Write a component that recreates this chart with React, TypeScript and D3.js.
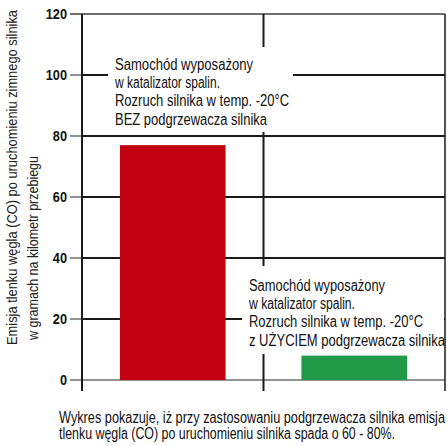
import { useMemo } from "react";
import * as d3 from "d3";

// Chart data
const categories = ["BEZ podgrzewacza", "z UŻYCIEM podgrzewacza"];
const values = [77, 8];
const barColors = ["#c3000f", "#239a48"];
const yTicks = [0, 20, 40, 60, 80, 100, 120];

const noteBez = [
  "Samochód wyposażony",
  "w katalizator spalin.",
  "Rozruch silnika w temp. -20°C",
  "BEZ podgrzewacza silnika",
];
const noteZ = [
  "Samochód wyposażony",
  "w katalizator spalin.",
  "Rozruch silnika w temp. -20°C",
  "z UŻYCIEM podgrzewacza silnika",
];
const yTitle = [
  "Emisja tlenku węgla (CO) po uruchomieniu zimnego silnika",
  "w gramach na kilometr przebiegu",
];
const footer = [
  "Wykres pokazuje, iż przy zastosowaniu podgrzewacza silnika emisja",
  "tlenku węgla (CO) po uruchomieniu silnika spada o 60 - 80%.",
];

// Rendered widths of the condensed lines (no narrow font installed)
const noteBezLen = [138, 105, 174, 152];
const noteZLen = [136, 106, 174, 196];
const yTitleLen = [335, 184];
const footerLen = [386, 336];

const WIDTH = 448;
const HEIGHT = 446;
const PLOT = { left: 82, right: 445, top: 14, bottom: 380 };
const FONT = "'Liberation Sans Narrow', 'Arial Narrow', 'Liberation Sans', Arial, sans-serif";
const DARK = "#1a1a1a";
const GRAY = "#6f6f6f";

const Lines = ({ lines, lens, x, y, step }: { lines: string[]; lens: number[]; x: number; y: number; step: number }) => (
  <>
    {lines.map((l, i) => (
      <text
        key={i}
        x={x}
        y={y + i * step}
        dy="0.35em"
        fontSize={16}
        fill="#111"
        textLength={lens[i]}
        lengthAdjust="spacingAndGlyphs"
      >
        {l}
      </text>
    ))}
  </>
);

export default function App() {
  const yScale = useMemo(
    () => d3.scaleLinear().domain([0, 120]).range([PLOT.bottom, PLOT.top]),
    []
  );
  const xScale = useMemo(
    () =>
      d3
        .scaleBand()
        .domain(categories)
        .range([PLOT.left, PLOT.right])
        .paddingInner(0.418)
        .paddingOuter(0.209),
    []
  );

  const divider = (xScale(categories[1]) ?? 0) - (xScale.step() * xScale.paddingInner()) / 2;

  return (
    <svg
      width={WIDTH}
      height={HEIGHT}
      style={{ position: "absolute", left: 0, top: 0, background: "#fff" }}
      fontFamily={FONT}
    >
      {/* grid lines */}
      {yTicks.map((t) => (
        <g key={t}>
          <line
            x1={PLOT.left - 12}
            x2={PLOT.left}
            y1={yScale(t)}
            y2={yScale(t)}
            stroke={GRAY}
            strokeWidth={1.5}
          />
          <line
            x1={t === 120 ? PLOT.left - 12 : PLOT.left}
            x2={PLOT.right}
            y1={yScale(t)}
            y2={yScale(t)}
            stroke={t === 120 || t === 0 ? GRAY : DARK}
            strokeWidth={t === 0 ? 1.5 : 2}
          />
          <text
            transform={`translate(${PLOT.left - 15}, ${yScale(t)}) scale(0.85, 1)`}
            dy="0.36em"
            textAnchor="end"
            fontWeight="bold"
            fontSize={15}
            fill="#111"
          >
            {t}
          </text>
        </g>
      ))}

      {/* axis, divider, right border */}
      <line x1={PLOT.left} x2={PLOT.left} y1={PLOT.top} y2={PLOT.bottom + 11} stroke={DARK} strokeWidth={2} />
      <line x1={divider} x2={divider} y1={PLOT.top} y2={PLOT.bottom + 11} stroke={DARK} strokeWidth={2} />
      <line x1={PLOT.right} x2={PLOT.right} y1={PLOT.top} y2={PLOT.bottom + 11} stroke={DARK} strokeWidth={1.5} />

      {/* white boxes behind the notes */}
      <rect x={108} y={47} width={185} height={85} fill="#fff" />
      <rect x={242} y={266} width={202} height={88} fill="#fff" />

      {/* bars */}
      {categories.map((c, i) => (
        <rect
          key={c}
          x={xScale(c)}
          y={yScale(values[i])}
          width={xScale.bandwidth()}
          height={yScale(0) - yScale(values[i])}
          fill={barColors[i]}
        />
      ))}

      {/* notes */}
      <Lines lines={noteBez} lens={noteBezLen} x={115} y={64} step={18.3} />
      <Lines lines={noteZ} lens={noteZLen} x={249} y={285} step={18.4} />

      {/* y title */}
      {yTitle.map((l, i) => (
        <text
          key={i}
          transform={`translate(${12 + i * 21}, ${345 - i * 5}) rotate(-90)`}
          dy="0.35em"
          fontSize={15}
          fill="#222"
          textLength={yTitleLen[i]}
          lengthAdjust="spacingAndGlyphs"
        >
          {l}
        </text>
      ))}

      {/* footer */}
      <Lines lines={footer} lens={footerLen} x={59} y={417} step={16.5} />
    </svg>
  );
}
